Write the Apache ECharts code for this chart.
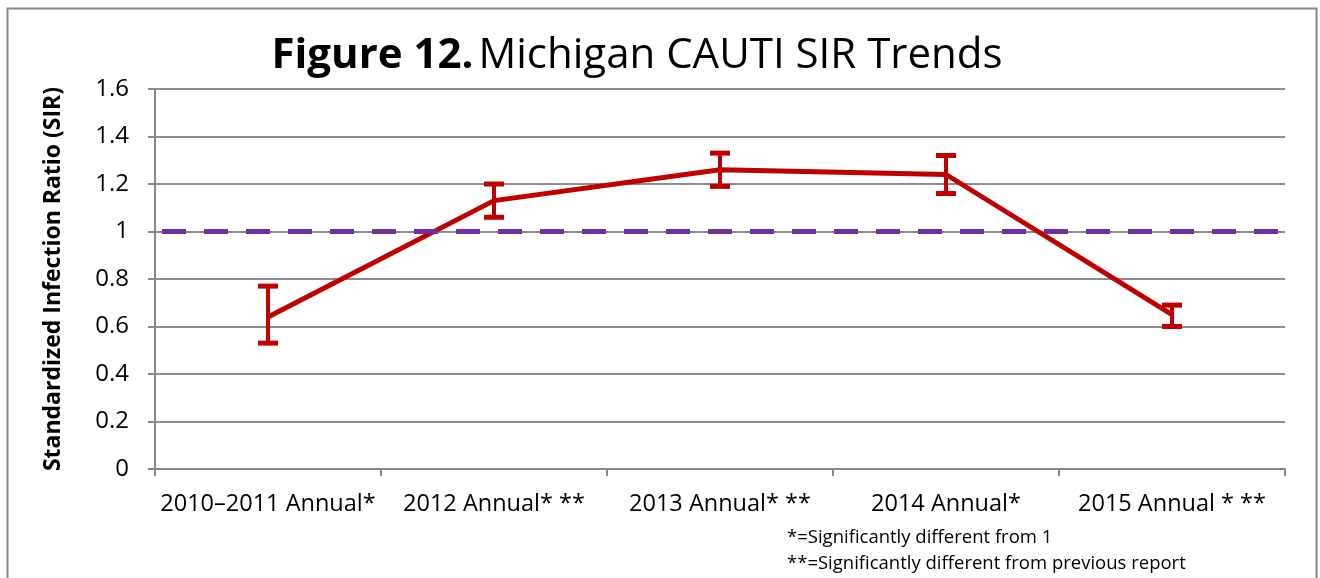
<!DOCTYPE html>
<html>
<head>
<meta charset="utf-8">
<script src="https://cdn.jsdelivr.net/npm/echarts@6/dist/echarts.min.js"></script>
<style>
  html, body { margin: 0; padding: 0; background: #fff; }
  #main { width: 1320px; height: 578px; }
</style>
</head>
<body>
<div id="main"></div>
<script>
var categories = ['2010\u20132011 Annual*', '2012 Annual* **', '2013 Annual* **', '2014 Annual*', '2015 Annual * **'];
var sirValues = [0.64, 1.13, 1.26, 1.24, 0.65];
var ciLower = [0.53, 1.06, 1.19, 1.16, 0.60];
var ciUpper = [0.77, 1.20, 1.33, 1.32, 0.69];
var yTicks = [0, 0.2, 0.4, 0.6, 0.8, 1, 1.2, 1.4, 1.6];
var referenceValue = 1;

var font = '"Open Sans", sans-serif';
var errorData = categories.map(function (c, i) { return [i, ciLower[i], ciUpper[i]]; });

var myChart = echarts.init(document.getElementById('main'));
var option = {
    backgroundColor: '#fff',
    animation: false,
    title: {
        text: '{b|Figure 12.} {r|Michigan CAUTI SIR Trends}',
        left: 632,
        textAlign: 'center',
        top: 30,
        textStyle: {
            fontWeight: 'normal',
            rich: {
                b: { fontFamily: font, fontSize: 42, fontWeight: 'bold', color: '#000' },
                r: { fontFamily: font, fontSize: 42, fontWeight: 'normal', color: '#000' }
            }
        }
    },
    graphic: [
        {
            type: 'rect',
            shape: { x: 7.5, y: 8.5, width: 1309, height: 600 },
            style: { fill: 'none', stroke: '#868686', lineWidth: 2 },
            silent: true
        },
        {
            type: 'text',
            left: 787,
            top: 528,
            style: { text: '*=Significantly different from 1', font: '18.5px ' + font, fill: '#000' }
        },
        {
            type: 'text',
            left: 787,
            top: 554,
            style: { text: '**=Significantly different from previous report', font: '18.5px ' + font, fill: '#000' }
        }
    ],
    grid: { left: 155, right: 35, top: 89, bottom: 109 },
    xAxis: {
        type: 'category',
        data: categories,
        boundaryGap: true,
        axisLine: { lineStyle: { color: '#868686', width: 2 } },
        axisTick: { show: true, length: 7, lineStyle: { color: '#868686', width: 2 } },
        axisLabel: { fontFamily: font, fontSize: 23.5, color: '#000', margin: 23, interval: 0 }
    },
    yAxis: {
        type: 'value',
        min: yTicks[0],
        max: yTicks[yTicks.length - 1],
        interval: 0.2,
        name: 'Standardized Infection Ratio (SIR)',
        nameLocation: 'middle',
        nameGap: 90,
        nameTextStyle: { fontFamily: font, fontSize: 23, fontWeight: 'bold', color: '#000' },
        axisLine: { show: true, lineStyle: { color: '#868686', width: 2 } },
        axisTick: { show: true, length: 7, lineStyle: { color: '#868686', width: 2 } },
        axisLabel: {
            fontFamily: font, fontSize: 24, color: '#000', margin: 26,
            formatter: function (v) { return String(Math.round(v * 10) / 10); }
        },
        splitLine: { lineStyle: { color: '#8c8c8c', width: 2 } }
    },
    series: [
        {
            name: 'SIR',
            type: 'line',
            data: sirValues,
            symbol: 'none',
            lineStyle: { color: '#C00000', width: 5 },
            z: 3,
            markLine: {
                silent: true,
                symbol: 'none',
                label: { show: false },
                data: [[{ xAxis: 0, yAxis: referenceValue, x: 162 }, { yAxis: referenceValue, x: 1285 }]],
                lineStyle: { color: '#7030A0', width: 5, type: [24, 18] }
            }
        },
        {
            name: 'CI',
            type: 'custom',
            data: errorData,
            z: 4,
            renderItem: function (params, api) {
                var x = api.value(0);
                var lo = api.coord([x, api.value(1)]);
                var hi = api.coord([x, api.value(2)]);
                var style = { stroke: '#C00000', lineWidth: 4 };
                var capStyle = { stroke: '#C00000', lineWidth: 5 };
                return {
                    type: 'group',
                    children: [
                        { type: 'line', shape: { x1: lo[0], y1: lo[1], x2: hi[0], y2: hi[1] }, style: style },
                        { type: 'line', shape: { x1: lo[0] - 10, y1: lo[1], x2: lo[0] + 10, y2: lo[1] }, style: capStyle },
                        { type: 'line', shape: { x1: hi[0] - 10, y1: hi[1], x2: hi[0] + 10, y2: hi[1] }, style: capStyle }
                    ]
                };
            }
        }
    ]
};
myChart.setOption(option);
</script>
</body>
</html>
